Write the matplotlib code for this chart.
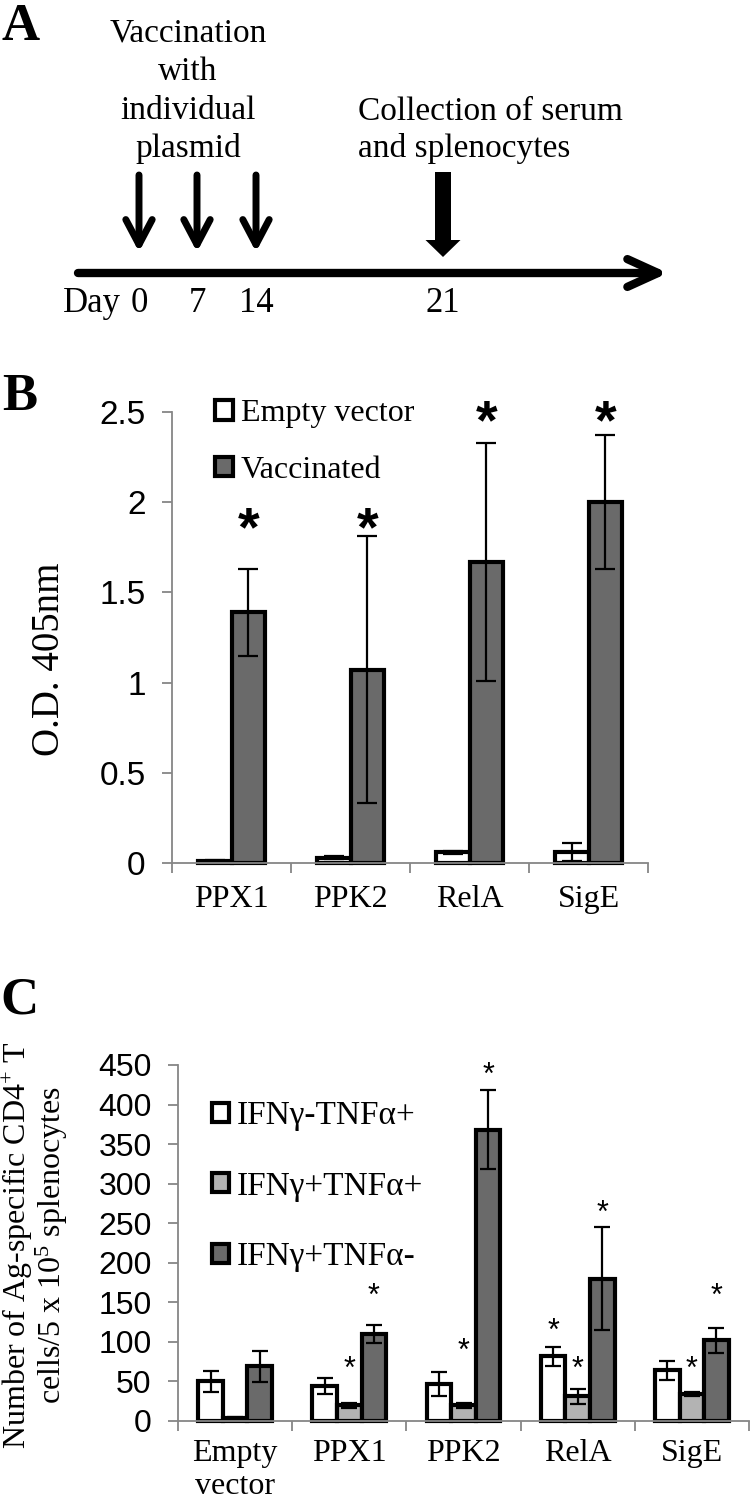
import matplotlib
matplotlib.use('Agg')
import matplotlib.pyplot as plt
import numpy as np

plt.rcParams['font.family'] = 'Liberation Serif'
plt.rcParams['mathtext.fontset'] = 'custom'
plt.rcParams['mathtext.rm'] = 'Liberation Serif'
plt.rcParams['mathtext.it'] = 'Liberation Serif:italic'
plt.rcParams['mathtext.bf'] = 'Liberation Serif:bold'

#####################################################################
# panel A: vaccination schedule (schematic positions in px)
days = ['0', '7', '14', '21']
day_x = [139, 197, 256, 443]
vacc_lines = ['Vaccination', 'with', 'individual', 'plasmid']
coll_lines = ['Collection of serum', 'and splenocytes']

# panel B: O.D. 405nm
genes_b = ['PPX1', 'PPK2', 'RelA', 'SigE']
empty_b = [0.01, 0.03, 0.06, 0.06]
empty_err_b = [0.005, 0.01, 0.008, 0.05]
vacc_b = [1.39, 1.07, 1.67, 2.00]
vacc_err_b = [0.24, 0.74, 0.66, 0.37]
star_b = [1.84, 1.84, 2.43, 2.43]
yticks_b = [0, 0.5, 1, 1.5, 2, 2.5]
yticklabels_b = ['0', '0.5', '1', '1.5', '2', '2.5']

# panel C: Ag-specific CD4+ T cells
groups_c = ['Empty\nvector', 'PPX1', 'PPK2', 'RelA', 'SigE']
series_c = ['IFNγ-TNFα+', 'IFNγ+TNFα+', 'IFNγ+TNFα-']
neg_pos = [50, 44, 47, 82, 64]
neg_pos_err = [13, 10, 15, 12, 12]
pos_pos = [4, 20, 20, 31, 34]
pos_pos_err = [1, 3, 3, 10, 3]
pos_neg = [69, 110, 368, 180, 102]
pos_neg_err = [20, 11, 50, 65, 16]
star_neg_pos = [None, None, None, 112, None]
star_pos_pos = [None, 64, 87, 64, 64]
star_pos_neg = [None, 157, 436, 262, 157]
yticks_c = list(range(0, 451, 50))
#####################################################################

W, H = 750, 1510
gray = '#868686'
fig = plt.figure(figsize=(W / 100, H / 100), dpi=100)


def px_axes(left, top, right, bottom):
    return fig.add_axes([left / W, 1 - bottom / H, (right - left) / W, (bottom - top) / H])


def style_axes(ax):
    for s in ['top', 'right']:
        ax.spines[s].set_visible(False)
    for s in ['left', 'bottom']:
        ax.spines[s].set_color(gray)
        ax.spines[s].set_linewidth(1.3)


# ---------------- A ----------------
axa = px_axes(0, 0, W, 330)
axa.set_xlim(0, W)
axa.set_ylim(330, 0)
axa.axis('off')

axa.annotate('', xy=(668, 273), xytext=(78, 273),
             arrowprops=dict(arrowstyle='->,head_length=2.2,head_width=1.0', lw=6,
                             color='black', shrinkA=0, shrinkB=0))
for xp in day_x[:3]:
    axa.annotate('', xy=(xp, 252), xytext=(xp, 175),
                 arrowprops=dict(arrowstyle='->,head_length=1.8,head_width=0.95', lw=5,
                                 color='black', shrinkA=0, shrinkB=0))
axa.arrow(day_x[3], 172, 0, 85, width=16, head_width=35, head_length=17,
          length_includes_head=True, color='black', lw=0)

for i, line in enumerate(vacc_lines):
    axa.text(188, 42 + 38.5 * i, line, ha='center', va='baseline', fontsize=24)
for i, line in enumerate(coll_lines):
    axa.text(358, 120 + 37 * i, line, ha='left', va='baseline', fontsize=24)
axa.text(63, 312, 'Day', ha='left', va='baseline', fontsize=25)
for xp, d in zip(day_x, days):
    axa.text(xp, 312, d, ha='center', va='baseline', fontsize=25)

# panel letters
for letter, (lx, ly) in zip('ABC', [(2, 40), (2, 410), (0, 1013)]):
    fig.text(lx / W, 1 - ly / H, letter, fontsize=38, fontweight='bold', va='baseline', ha='left')

# ---------------- B ----------------
axb = px_axes(172, 412, 648, 863)
x = np.arange(len(genes_b))
w = 0.28
ekw = dict(ecolor='black', elinewidth=1.6, capsize=7, capthick=1.6)
b1 = axb.bar(x - w / 2, empty_b, w, yerr=empty_err_b, color='white', edgecolor='black',
             linewidth=3, error_kw=ekw, label='Empty vector', clip_on=False)
b2 = axb.bar(x + w / 2, vacc_b, w, yerr=vacc_err_b, color='#6a6a6a', edgecolor='black',
             linewidth=3, error_kw=ekw, label='Vaccinated', clip_on=False)
for xi, sy in zip(x, star_b):
    axb.text(xi + w / 2, sy, '*', ha='center', va='center', fontsize=40,
             family='Liberation Sans', fontweight='bold')

axb.set_xlim(-0.5, len(genes_b) - 0.5)
axb.set_ylim(0, 2.5)
style_axes(axb)
axb.set_xticks(x)
axb.set_xticklabels(genes_b, fontsize=23)
axb.set_xticks(np.arange(-0.5, len(genes_b), 1), minor=True)
axb.tick_params(axis='x', which='major', length=0, pad=16)
axb.tick_params(axis='x', which='minor', length=7, width=1.3, color=gray)
axb.set_yticks(yticks_b, labels=yticklabels_b, fontsize=24, fontfamily='Liberation Sans')
axb.tick_params(axis='y', length=7, width=1.3, color=gray, pad=12)
axb.legend(handles=[b1, b2], loc='upper left', bbox_to_anchor=(0.09, 1.028), frameon=False,
           fontsize=23, handlelength=0.56, handleheight=0.56, handletextpad=0.25,
           labelspacing=0.85, borderpad=0, borderaxespad=0)
fig.text(50 / W, 1 - 659 / H, 'O.D. 405nm', rotation=90, ha='center', va='center', fontsize=28)

# ---------------- C ----------------
axc = px_axes(178, 1065, 749, 1421)
xc = np.arange(len(groups_c))
wc = 0.215
ekw_c = dict(ecolor='black', elinewidth=1.6, capsize=6, capthick=1.6)
vals = [neg_pos, pos_pos, pos_neg]
errs = [neg_pos_err, pos_pos_err, pos_neg_err]
stars = [star_neg_pos, star_pos_pos, star_pos_neg]
colors = ['white', '#b3b3b3', '#6a6a6a']
handles = []
for k in range(3):
    off = (k - 1) * wc
    bc = axc.bar(xc + off, vals[k], wc, yerr=errs[k], color=colors[k], edgecolor='black',
                 linewidth=3, error_kw=ekw_c, label=series_c[k], clip_on=False)
    handles.append(bc)
    for xi, sy in zip(xc, stars[k]):
        if sy is not None:
            axc.text(xi + off, sy, '*', ha='center', va='center', fontsize=22,
                     family='Liberation Sans')

axc.set_xlim(-0.5, len(groups_c) - 0.5)
axc.set_ylim(0, 450)
style_axes(axc)
axc.set_xticks(xc)
axc.set_xticklabels(groups_c, fontsize=23)
axc.set_xticks(np.arange(-0.5, len(groups_c), 1), minor=True)
axc.tick_params(axis='x', which='major', length=0, pad=13)
axc.tick_params(axis='x', which='minor', length=7, width=1.3, color=gray)
axc.set_yticks(yticks_c, labels=[str(v) for v in yticks_c], fontsize=23, fontfamily='Liberation Sans')
axc.tick_params(axis='y', length=7, width=1.3, color=gray, pad=12)
axc.legend(handles=handles, loc='upper left', bbox_to_anchor=(0.06, 0.90), frameon=False,
           fontsize=24, handlelength=0.5, handleheight=0.5, handletextpad=0.22,
           labelspacing=1.2, borderpad=0, borderaxespad=0)
fig.text(1 / W, 1 - 1245 / H,
         'Number of Ag-specific CD4$^{\\mathrm{+}}$ T\ncells/5 x 10$^{\\mathrm{5}}$ splenocytes',
         rotation=90, ha='left', va='center', multialignment='center', fontsize=23,
         linespacing=0.95)

fig.savefig('out.png', dpi=100)
